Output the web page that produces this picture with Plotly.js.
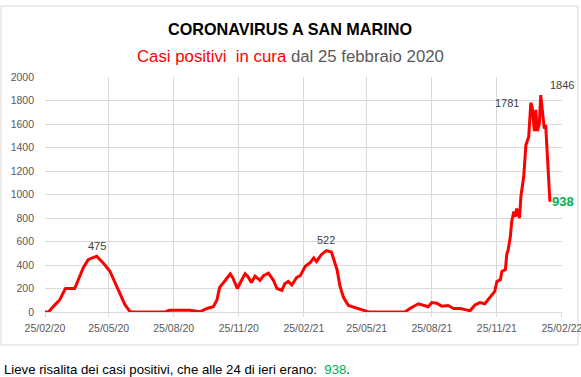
<!DOCTYPE html>
<html><head><meta charset="utf-8">
<script src="https://cdn.plot.ly/plotly-3.0.1.min.js"></script>
<style>html,body{margin:0;padding:0;background:#fff;}#chart{width:581px;height:377px;}</style>
</head><body><div id="chart"></div>
<script>
const dates = ["2020-02-25","2020-03-01","2020-03-08","2020-03-17","2020-03-24","2020-03-25","2020-04-07","2020-04-12","2020-04-19","2020-04-26","2020-05-01","2020-05-08","2020-05-17","2020-05-27","2020-06-03","2020-06-10","2020-06-17","2020-06-24","2020-06-28","2020-08-13","2020-08-19","2020-09-17","2020-09-24","2020-10-01","2020-10-11","2020-10-20","2020-10-25","2020-10-29","2020-11-06","2020-11-13","2020-11-17","2020-11-23","2020-11-29","2020-12-04","2020-12-08","2020-12-13","2020-12-18","2020-12-25","2020-12-30","2021-01-06","2021-01-13","2021-01-18","2021-01-25","2021-01-29","2021-02-03","2021-02-08","2021-02-15","2021-02-20","2021-02-27","2021-03-06","2021-03-11","2021-03-15","2021-03-22","2021-03-29","2021-04-05","2021-04-13","2021-04-17","2021-04-22","2021-04-29","2021-05-11","2021-05-23","2021-05-28","2021-07-18","2021-07-25","2021-08-06","2021-08-13","2021-08-20","2021-08-25","2021-09-01","2021-09-08","2021-09-17","2021-09-25","2021-10-04","2021-10-11","2021-10-18","2021-10-25","2021-11-01","2021-11-08","2021-11-15","2021-11-22","2021-11-25","2021-11-30","2021-12-02","2021-12-07","2021-12-09","2021-12-11","2021-12-14","2021-12-16","2021-12-19","2021-12-21","2021-12-23","2021-12-27","2021-12-29","2022-01-02","2022-01-05","2022-01-09","2022-01-12","2022-01-14","2022-01-17","2022-01-19","2022-01-21","2022-01-24","2022-01-26","2022-01-28","2022-01-31","2022-02-02","2022-02-04","2022-02-08"];
const positivi = [0,0,48,105,190,200,200,275,375,445,460,475,420,345,250,163,62,5,0,0,15,14,5,2,30,45,100,210,270,325,285,200,270,325,300,250,305,270,310,330,270,200,185,240,260,230,295,310,390,420,460,430,490,522,510,360,225,125,55,30,5,0,0,30,70,60,45,80,75,50,55,30,30,20,10,60,80,70,120,175,260,275,345,360,490,530,640,770,855,810,880,800,985,1155,1420,1490,1781,1740,1540,1720,1540,1600,1846,1750,1560,1590,1330,938];
const xRange = ["2020-02-25","2022-02-25 02:00"];
const xTicks = ["2020-02-25","2020-05-25","2020-08-25","2020-11-25","2021-02-25","2021-05-25","2021-08-25","2021-11-25","2022-02-25"];
const xTickText = ["25/02/20","25/05/20","25/08/20","25/11/20","25/02/21","25/05/21","25/08/21","25/11/21","25/02/22"];
const yTicks = [0,200,400,600,800,1000,1200,1400,1600,1800,2000];

const W=581,H=377,L=45,R=19,T=77,B=65;
const pw=W-L-R, ph=H-T-B;
const px=x=>(x-L)/pw, py=y=>(H-B-y)/ph;
const grey='#595959';
const FONT='Liberation Sans, Arial, sans-serif';

const ann=[];
ann.push({xref:'paper',yref:'paper',x:px(290),y:py(29),xanchor:'center',yanchor:'middle',showarrow:false,
  text:'<b>CORONAVIRUS A SAN MARINO</b>',font:{family:FONT,size:16.2,color:'#000'}});
ann.push({xref:'paper',yref:'paper',x:px(290),y:py(56),xanchor:'center',yanchor:'middle',showarrow:false,
  text:'<span style="color:#ff0000">Casi positivi  in cura</span> dal 25 febbraio 2020',font:{family:FONT,size:16.8,color:grey}});
ann.push({xref:'paper',yref:'paper',x:px(2),y:py(369),xanchor:'left',yanchor:'middle',showarrow:false,
  text:'Lieve risalita dei casi positivi, che alle 24 di ieri erano:  <span style="color:#00b050">938</span>.',font:{family:FONT,size:13.2,color:'#000'}});

const idx = v => positivi.indexOf(v);
const lab = [
  {v:475, xa:'center', ya:'bottom', xs:0, ys:2},
  {v:522, xa:'center', ya:'bottom', xs:0, ys:3},
  {v:1781, xa:'right', ya:'middle', xs:-10, ys:0},
  {v:1846, xa:'left', ya:'bottom', xs:7, ys:2},
];
lab.forEach(o=>{const i=idx(o.v);ann.push({x:dates[i],y:positivi[i],xref:'x',yref:'y',showarrow:false,text:String(positivi[i]),
  xanchor:o.xa,yanchor:o.ya,xshift:o.xs,yshift:o.ys,font:{family:FONT,size:11,color:'#404040'}});});
const li=positivi.length-1;
ann.push({x:dates[li],y:positivi[li],xref:'x',yref:'y',showarrow:false,text:'<b>'+positivi[li]+'</b>',xanchor:'left',yanchor:'middle',xshift:0,
  font:{family:FONT,size:13,color:'#00b050'}});

Plotly.newPlot('chart',[{x:dates,y:positivi,type:'scatter',mode:'lines',line:{color:'#ff0000',width:3},hoverinfo:'skip'}],{
  width:W,height:H,margin:{l:L,r:R,t:T,b:B},paper_bgcolor:'#fff',plot_bgcolor:'#fff',showlegend:false,
  xaxis:{type:'date',range:xRange,tickmode:'array',tickvals:xTicks,ticktext:xTickText,showgrid:true,gridcolor:'#d9d9d9',gridwidth:1,
    showline:true,linecolor:'#d9d9d9',ticks:'outside',ticklen:4,tickcolor:'#d9d9d9',zeroline:false,
    tickfont:{family:FONT,size:10.5,color:grey},ticklabelstandoff:2,ticklabeloverflow:'allow'},
  yaxis:{range:[0,2000],tickvals:yTicks,showgrid:true,gridcolor:'#d9d9d9',zeroline:false,showline:false,ticks:'',
    tickfont:{family:FONT,size:10.5,color:grey},ticklabelstandoff:10},
  annotations:ann,
  shapes:[{type:'rect',xref:'paper',yref:'paper',x0:px(1),x1:px(578),y0:py(345),y1:py(6),line:{color:'#d9d9d9',width:1},fillcolor:'rgba(0,0,0,0)',layer:'below'}]
},{staticPlot:true});
</script></body></html>
